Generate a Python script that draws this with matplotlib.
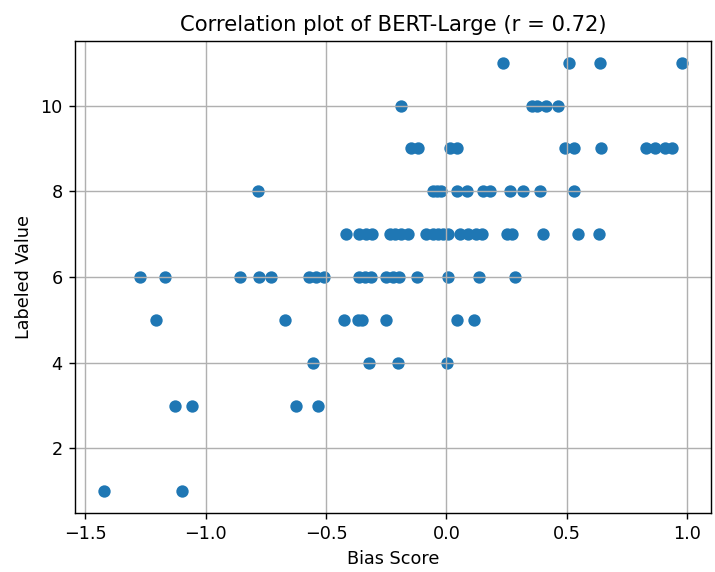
import matplotlib
matplotlib.use("Agg")
import matplotlib.pyplot as plt
import numpy as np

bias_score = [
    # label 11
    0.235, 0.510, 0.640, 0.979,
    # label 10
    -0.1875, 0.354, 0.375, 0.4125, 0.4625,
    # label 9
    -0.146, -0.118, 0.014, 0.042, 0.493, 0.530, 0.643, 0.830, 0.868, 0.910, 0.936,
    # label 8
    -0.782, -0.056, -0.039, -0.022, 0.042, 0.085, 0.153, 0.182, 0.264, 0.319, 0.387, 0.532,
    # label 7
    -0.417, -0.361, -0.333, -0.311, -0.236, -0.215, -0.1875, -0.161, -0.083, -0.056,
    -0.035, -0.014, 0.007, 0.055, 0.090, 0.125, 0.146, 0.250, 0.271, 0.4025, 0.548, 0.632,
    # label 6
    -1.274, -1.167, -0.857, -0.778, -0.727, -0.570, -0.542, -0.509, -0.363, -0.339,
    -0.315, -0.249, -0.2225, -0.1975, -0.124, 0.007, 0.137, 0.285,
    # label 5
    -1.208, -0.671, -0.427, -0.368, -0.350, -0.250, 0.042, 0.115,
    # label 4
    -0.556, -0.320, -0.203, 0.004,
    # label 3
    -1.129, -1.056, -0.624, -0.533,
    # label 1
    -1.4225, -1.0975,
]
labeled_value = (
    [11] * 4 + [10] * 5 + [9] * 11 + [8] * 12 + [7] * 22 + [6] * 18
    + [5] * 8 + [4] * 4 + [3] * 4 + [1] * 2
)

DPI = 127
fig = plt.figure(figsize=(715 / DPI, 572 / DPI), dpi=DPI)
ax = fig.add_axes([75 / 715, 1 - 512.7 / 572, 636 / 715, 471.4 / 572])
ax.scatter(bias_score, labeled_value, color="#1f77b4")
ax.set_title("Correlation plot of BERT-Large (r = 0.72)")
ax.set_xlabel("Bias Score")
ax.set_ylabel("Labeled Value")
ax.grid(True)
fig.savefig("out.png", dpi=DPI)
